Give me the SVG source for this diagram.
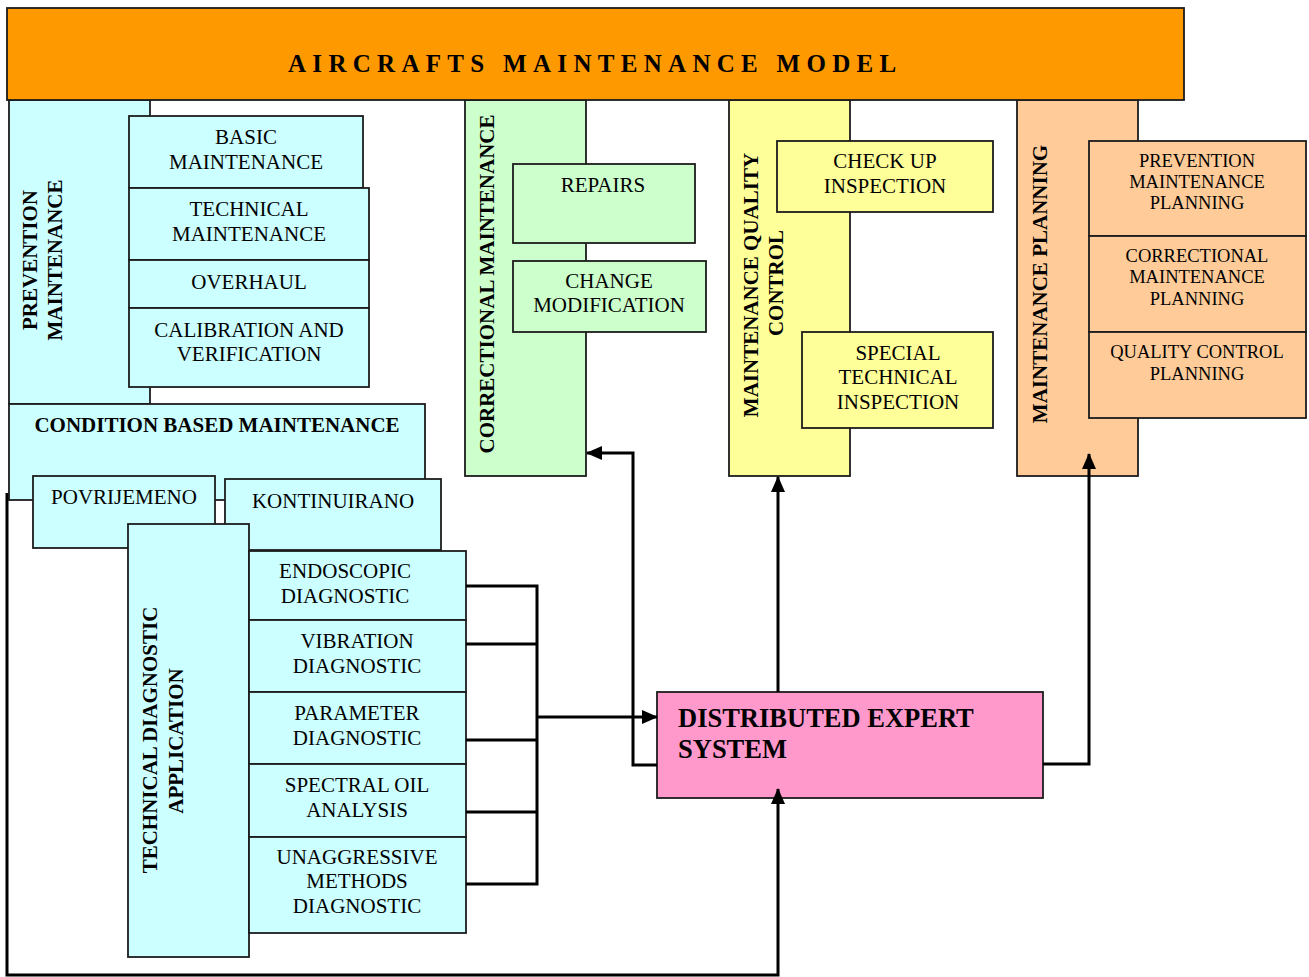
<svg xmlns="http://www.w3.org/2000/svg" width="1309" height="977" viewBox="0 0 1309 977">
  <defs>
    <marker id="arrow" viewBox="0 0 16 14" refX="15" refY="7" markerWidth="16" markerHeight="14" markerUnits="userSpaceOnUse" orient="auto">
      <path d="M0,0 L16,7 L0,14 z" fill="#000"/>
    </marker>
    <style>
      .box { stroke: #1c1c1c; stroke-width: 1.8; }
      .cyan { fill: #CCFFFF; }
      .green { fill: #CCFFCC; }
      .yellow { fill: #FFFF99; }
      .peach { fill: #FFCC99; }
      .pink { fill: #FF99CC; }
      .orange { fill: #FF9900; }
      text { font-family: "Liberation Serif", "Times New Roman", serif; fill: #000; }
      .t { font-size: 21px; text-anchor: middle; }
      .ts { font-size: 18.5px; text-anchor: middle; }
      .tb { font-size: 21px; font-weight: bold; text-anchor: middle; }
      .title { font-size: 25px; font-weight: bold; letter-spacing: 6.3px; }
      .des { font-size: 26.5px; font-weight: bold; }
      .wire { fill: none; stroke: #000; stroke-width: 3; stroke-linejoin: miter; }
    </style>
  </defs>

  <rect width="1309" height="977" fill="#fff"/>

  <!-- Preventive maintenance column and its activities -->
  <g id="prevention-maintenance">
    <rect class="box cyan" x="9" y="100" width="141" height="304"/>
    <text class="tb" transform="translate(37,260) rotate(-90)">PREVENTION</text>
    <text class="tb" transform="translate(62,260) rotate(-90)">MAINTENANCE</text>
  </g>
  <g id="basic-maintenance">
    <rect class="box cyan" x="129" y="116" width="234" height="72"/>
    <text class="t" x="246" y="144">BASIC</text>
    <text class="t" x="246" y="169">MAINTENANCE</text>
  </g>
  <g id="technical-maintenance">
    <rect class="box cyan" x="129" y="188" width="240" height="72"/>
    <text class="t" x="249" y="216">TECHNICAL</text>
    <text class="t" x="249" y="241">MAINTENANCE</text>
  </g>
  <g id="overhaul">
    <rect class="box cyan" x="129" y="260" width="240" height="48"/>
    <text class="t" x="249" y="289">OVERHAUL</text>
  </g>
  <g id="calibration">
    <rect class="box cyan" x="129" y="308" width="240" height="79"/>
    <text class="t" x="249" y="337">CALIBRATION AND</text>
    <text class="t" x="249" y="361">VERIFICATION</text>
  </g>

  <!-- Condition based maintenance -->
  <g id="condition-based-maintenance">
    <rect class="box cyan" x="9" y="404" width="416" height="96"/>
    <text class="tb" x="217" y="432">CONDITION BASED MAINTENANCE</text>
  </g>
  <g id="povrijemeno">
    <rect class="box cyan" x="33" y="476" width="182" height="72"/>
    <text class="t" x="124" y="504">POVRIJEMENO</text>
  </g>
  <g id="kontinuirano">
    <rect class="box cyan" x="225" y="479" width="216" height="71"/>
    <text class="t" x="333" y="508">KONTINUIRANO</text>
  </g>

  <!-- Technical diagnostic application -->
  <g id="technical-diagnostic-application">
    <rect class="box cyan" x="128" y="524" width="121" height="433"/>
    <text class="tb" transform="translate(157,740) rotate(-90)">TECHNICAL DIAGNOSTIC</text>
    <text class="tb" transform="translate(183,741) rotate(-90)">APPLICATION</text>
  </g>
  <g id="endoscopic-diagnostic">
    <rect class="box cyan" x="249" y="551" width="217" height="69"/>
    <text class="t" x="345" y="578">ENDOSCOPIC</text>
    <text class="t" x="345" y="603">DIAGNOSTIC</text>
  </g>
  <g id="vibration-diagnostic">
    <rect class="box cyan" x="249" y="620" width="217" height="72"/>
    <text class="t" x="357" y="648">VIBRATION</text>
    <text class="t" x="357" y="673">DIAGNOSTIC</text>
  </g>
  <g id="parameter-diagnostic">
    <rect class="box cyan" x="249" y="692" width="217" height="72"/>
    <text class="t" x="357" y="720">PARAMETER</text>
    <text class="t" x="357" y="745">DIAGNOSTIC</text>
  </g>
  <g id="spectral-oil-analysis">
    <rect class="box cyan" x="249" y="764" width="217" height="73"/>
    <text class="t" x="357" y="792">SPECTRAL OIL</text>
    <text class="t" x="357" y="817">ANALYSIS</text>
  </g>
  <g id="unaggressive-methods">
    <rect class="box cyan" x="249" y="837" width="217" height="96"/>
    <text class="t" x="357" y="864">UNAGGRESSIVE</text>
    <text class="t" x="357" y="888">METHODS</text>
    <text class="t" x="357" y="913">DIAGNOSTIC</text>
  </g>

  <!-- Correctional maintenance -->
  <g id="correctional-maintenance">
    <rect class="box green" x="465" y="100" width="121" height="376"/>
    <text class="tb" transform="translate(494,284) rotate(-90)">CORRECTIONAL MAINTENANCE</text>
  </g>
  <g id="repairs">
    <rect class="box green" x="513" y="164" width="182" height="79"/>
    <text class="t" x="603" y="192">REPAIRS</text>
  </g>
  <g id="change-modification">
    <rect class="box green" x="513" y="261" width="193" height="71"/>
    <text class="t" x="609" y="288">CHANGE</text>
    <text class="t" x="609" y="312">MODIFICATION</text>
  </g>

  <!-- Maintenance quality control -->
  <g id="maintenance-quality-control">
    <rect class="box yellow" x="729" y="100" width="121" height="376"/>
    <text class="tb" transform="translate(758,285) rotate(-90)">MAINTENANCE QUALITY</text>
    <text class="tb" transform="translate(783,283) rotate(-90)">CONTROL</text>
  </g>
  <g id="check-up-inspection">
    <rect class="box yellow" x="777" y="141" width="216" height="71"/>
    <text class="t" x="885" y="168">CHECK UP</text>
    <text class="t" x="885" y="193">INSPECTION</text>
  </g>
  <g id="special-technical-inspection">
    <rect class="box yellow" x="802" y="332" width="191" height="96"/>
    <text class="t" x="898" y="360">SPECIAL</text>
    <text class="t" x="898" y="384">TECHNICAL</text>
    <text class="t" x="898" y="409">INSPECTION</text>
  </g>

  <!-- Maintenance planning -->
  <g id="maintenance-planning">
    <rect class="box peach" x="1017" y="100" width="121" height="376"/>
    <text class="tb" transform="translate(1047,284) rotate(-90)">MAINTENANCE PLANNING</text>
  </g>
  <g id="prevention-maintenance-planning">
    <rect class="box peach" x="1089" y="141" width="217" height="95"/>
    <text class="ts" x="1197" y="167">PREVENTION</text>
    <text class="ts" x="1197" y="188">MAINTENANCE</text>
    <text class="ts" x="1197" y="209">PLANNING</text>
  </g>
  <g id="correctional-maintenance-planning">
    <rect class="box peach" x="1089" y="236" width="217" height="96"/>
    <text class="ts" x="1197" y="262">CORRECTIONAL</text>
    <text class="ts" x="1197" y="283">MAINTENANCE</text>
    <text class="ts" x="1197" y="305">PLANNING</text>
  </g>
  <g id="quality-control-planning">
    <rect class="box peach" x="1089" y="332" width="217" height="86"/>
    <text class="ts" x="1197" y="358">QUALITY CONTROL</text>
    <text class="ts" x="1197" y="380">PLANNING</text>
  </g>

  <!-- Header bar -->
  <g id="aircrafts-maintenance-model">
    <rect class="box orange" x="7" y="8" width="1177" height="92"/>
    <text class="title" x="288" y="72">AIRCRAFTS MAINTENANCE MODEL</text>
  </g>

  <!-- Central expert system -->
  <g id="distributed-expert-system">
    <rect class="box pink" x="657" y="692" width="386" height="106"/>
    <text class="des" x="678" y="727">DISTRIBUTED EXPERT</text>
    <text class="des" x="678" y="758">SYSTEM</text>
  </g>

  <!-- Connectors -->
  <g id="connectors">
    <!-- diagnostic bus into the expert system -->
    <path class="wire" d="M466,586 H537 V884 H466"/>
    <path class="wire" d="M466,644 H537"/>
    <path class="wire" d="M466,740 H537"/>
    <path class="wire" d="M466,812 H537"/>
    <path class="wire" d="M537,717 H657" marker-end="url(#arrow)"/>
    <!-- expert system outputs -->
    <path class="wire" d="M657,765 H633 V453 H587" marker-end="url(#arrow)"/>
    <path class="wire" d="M778,692 V477" marker-end="url(#arrow)"/>
    <path class="wire" d="M1043,764 H1089 V454" marker-end="url(#arrow)"/>
    <!-- feedback from condition based maintenance -->
    <path class="wire" d="M7,493 V975 H778 V789" marker-end="url(#arrow)"/>
  </g>
</svg>
